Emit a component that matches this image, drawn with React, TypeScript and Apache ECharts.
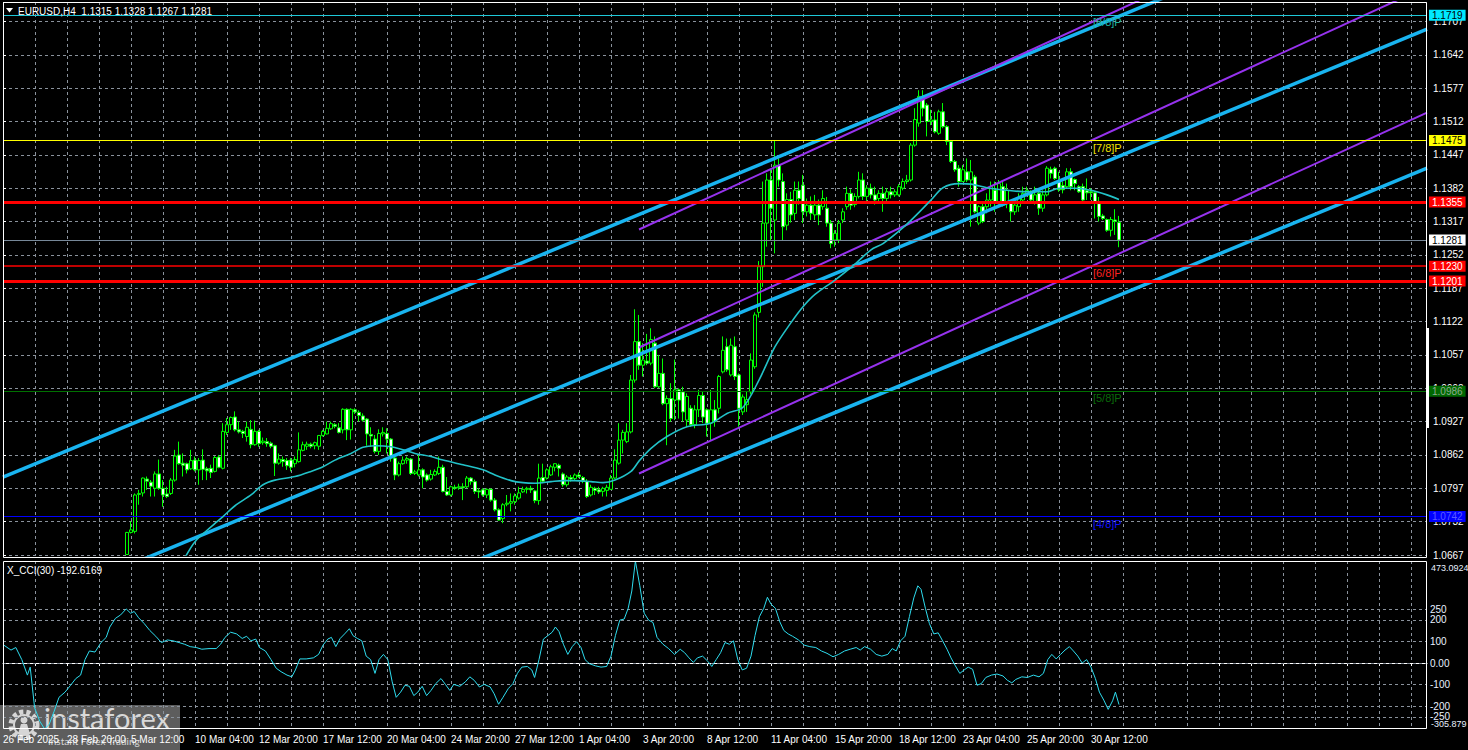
import React, { useEffect, useRef } from "react";
import * as echarts from "echarts";

// ---------- data ----------
const tickLabels = [
  "26 Feb 2025", "28 Feb 20:00", "5 Mar 12:00", "10 Mar 04:00", "12 Mar 20:00", "17 Mar 12:00",
  "20 Mar 04:00", "24 Mar 20:00", "27 Mar 12:00", "1 Apr 04:00", "3 Apr 20:00", "8 Apr 12:00",
  "11 Apr 04:00", "15 Apr 20:00", "18 Apr 12:00", "23 Apr 04:00", "25 Apr 20:00", "30 Apr 12:00",
];
const barsPerLabel = 16;
const slotCount = 357;
const firstBar = 31;

// [open, high, low, close] for bars 31..279
const ohlc: number[][] = [
  [1.0668, 1.0712, 1.0667, 1.0711], [1.0711, 1.0732, 1.0709, 1.0716], [1.0713, 1.0787, 1.0709, 1.0784],
  [1.0785, 1.0794, 1.0765, 1.0787], [1.0788, 1.0818, 1.0781, 1.0817], [1.0815, 1.0820, 1.0794, 1.0811],
  [1.0809, 1.0813, 1.0781, 1.0801], [1.0797, 1.0830, 1.0781, 1.0825], [1.0825, 1.0853, 1.0794, 1.0797],
  [1.0797, 1.0813, 1.0761, 1.0784], [1.0786, 1.0800, 1.0778, 1.0781], [1.0787, 1.0817, 1.0784, 1.0813],
  [1.0813, 1.0872, 1.0810, 1.0860], [1.0862, 1.0888, 1.0843, 1.0845], [1.0846, 1.0865, 1.0820, 1.0842],
  [1.0845, 1.0847, 1.0826, 1.0833], [1.0835, 1.0872, 1.0833, 1.0851], [1.0852, 1.0859, 1.0830, 1.0833],
  [1.0833, 1.0856, 1.0804, 1.0851], [1.0852, 1.0873, 1.0813, 1.0834], [1.0835, 1.0839, 1.0813, 1.0831],
  [1.0836, 1.0843, 1.0817, 1.0828], [1.0830, 1.0860, 1.0828, 1.0857], [1.0858, 1.0862, 1.0836, 1.0838],
  [1.0836, 1.0924, 1.0834, 1.0908], [1.0906, 1.0934, 1.0901, 1.0921], [1.0921, 1.0937, 1.0911, 1.0935],
  [1.0936, 1.0947, 1.0908, 1.0911], [1.0911, 1.0927, 1.0904, 1.0907], [1.0908, 1.0911, 1.0895, 1.0904],
  [1.0898, 1.0927, 1.0888, 1.0916], [1.0912, 1.0930, 1.0875, 1.0882], [1.0882, 1.0929, 1.0880, 1.0908],
  [1.0908, 1.0911, 1.0878, 1.0884], [1.0886, 1.0896, 1.0882, 1.0889], [1.0888, 1.0895, 1.0878, 1.0884],
  [1.0885, 1.0888, 1.0875, 1.0879], [1.0880, 1.0882, 1.0821, 1.0846], [1.0846, 1.0865, 1.0843, 1.0854],
  [1.0853, 1.0859, 1.0839, 1.0849], [1.0851, 1.0856, 1.0833, 1.0841], [1.0852, 1.0856, 1.0830, 1.0838],
  [1.0845, 1.0859, 1.0838, 1.0853], [1.0849, 1.0906, 1.0847, 1.0872], [1.0871, 1.0888, 1.0869, 1.0882],
  [1.0879, 1.0888, 1.0872, 1.0883], [1.0883, 1.0886, 1.0875, 1.0879], [1.0880, 1.0888, 1.0873, 1.0886],
  [1.0879, 1.0901, 1.0872, 1.0900], [1.0900, 1.0911, 1.0898, 1.0908], [1.0903, 1.0927, 1.0902, 1.0914],
  [1.0913, 1.0927, 1.0911, 1.0923], [1.0921, 1.0924, 1.0914, 1.0918], [1.0915, 1.0924, 1.0904, 1.0906],
  [1.0911, 1.0953, 1.0904, 1.0951], [1.0951, 1.0953, 1.0891, 1.0911], [1.0911, 1.0953, 1.0892, 1.0951],
  [1.0950, 1.0953, 1.0942, 1.0946], [1.0945, 1.0949, 1.0927, 1.0939], [1.0938, 1.0943, 1.0927, 1.0930],
  [1.0932, 1.0934, 1.0880, 1.0903], [1.0902, 1.0916, 1.0878, 1.0899], [1.0893, 1.0901, 1.0865, 1.0869],
  [1.0869, 1.0912, 1.0862, 1.0904], [1.0903, 1.0916, 1.0898, 1.0906], [1.0904, 1.0914, 1.0865, 1.0893],
  [1.0893, 1.0895, 1.0849, 1.0856], [1.0856, 1.0862, 1.0813, 1.0823], [1.0823, 1.0849, 1.0820, 1.0845],
  [1.0845, 1.0859, 1.0843, 1.0852], [1.0852, 1.0859, 1.0845, 1.0855], [1.0854, 1.0856, 1.0823, 1.0826],
  [1.0826, 1.0833, 1.0823, 1.0829], [1.0823, 1.0862, 1.0820, 1.0833], [1.0833, 1.0836, 1.0797, 1.0819],
  [1.0823, 1.0826, 1.0810, 1.0813], [1.0815, 1.0833, 1.0812, 1.0824], [1.0823, 1.0834, 1.0821, 1.0830],
  [1.0826, 1.0859, 1.0823, 1.0838], [1.0838, 1.0843, 1.0789, 1.0791], [1.0791, 1.0819, 1.0782, 1.0784],
  [1.0784, 1.0802, 1.0781, 1.0800], [1.0799, 1.0804, 1.0794, 1.0797], [1.0798, 1.0806, 1.0794, 1.0800],
  [1.0800, 1.0807, 1.0774, 1.0798], [1.0800, 1.0821, 1.0797, 1.0817], [1.0817, 1.0819, 1.0804, 1.0810],
  [1.0810, 1.0814, 1.0786, 1.0791], [1.0792, 1.0797, 1.0778, 1.0790], [1.0794, 1.0797, 1.0781, 1.0784],
  [1.0784, 1.0797, 1.0778, 1.0795], [1.0795, 1.0797, 1.0771, 1.0774], [1.0774, 1.0778, 1.0752, 1.0755],
  [1.0755, 1.0758, 1.0734, 1.0735], [1.0738, 1.0768, 1.0729, 1.0765], [1.0766, 1.0784, 1.0762, 1.0768],
  [1.0768, 1.0787, 1.0752, 1.0771], [1.0771, 1.0787, 1.0765, 1.0782], [1.0778, 1.0800, 1.0775, 1.0788],
  [1.0790, 1.0800, 1.0788, 1.0795], [1.0795, 1.0800, 1.0787, 1.0797], [1.0797, 1.0802, 1.0788, 1.0794],
  [1.0792, 1.0794, 1.0768, 1.0773], [1.0773, 1.0845, 1.0765, 1.0817], [1.0818, 1.0845, 1.0807, 1.0811],
  [1.0817, 1.0836, 1.0814, 1.0833], [1.0823, 1.0843, 1.0821, 1.0839], [1.0838, 1.0846, 1.0830, 1.0845],
  [1.0842, 1.0845, 1.0820, 1.0836], [1.0825, 1.0828, 1.0800, 1.0804], [1.0804, 1.0823, 1.0800, 1.0819],
  [1.0818, 1.0823, 1.0810, 1.0815], [1.0816, 1.0826, 1.0812, 1.0823], [1.0823, 1.0828, 1.0817, 1.0820],
  [1.0818, 1.0821, 1.0807, 1.0812], [1.0810, 1.0815, 1.0778, 1.0781], [1.0784, 1.0804, 1.0781, 1.0799],
  [1.0797, 1.0800, 1.0784, 1.0793], [1.0794, 1.0800, 1.0786, 1.0790], [1.0791, 1.0800, 1.0781, 1.0797],
  [1.0793, 1.0804, 1.0781, 1.0799], [1.0795, 1.0823, 1.0794, 1.0817], [1.0817, 1.0873, 1.0815, 1.0852],
  [1.0846, 1.0924, 1.0843, 1.0891], [1.0891, 1.0911, 1.0865, 1.0906], [1.0888, 1.0924, 1.0885, 1.0907],
  [1.0907, 1.1018, 1.0904, 1.1008], [1.1008, 1.1146, 1.1003, 1.1083], [1.1083, 1.1135, 1.1028, 1.1037],
  [1.1037, 1.1080, 1.1015, 1.1047], [1.1045, 1.1098, 1.1037, 1.1041], [1.1041, 1.1109, 1.1037, 1.1087],
  [1.1080, 1.1093, 1.0992, 1.0995], [1.0995, 1.1057, 1.0992, 1.1021], [1.1021, 1.1050, 1.0959, 1.0962],
  [1.0962, 1.0978, 1.0881, 1.0972], [1.0972, 1.1002, 1.0927, 1.0933], [1.0969, 1.1048, 1.0930, 1.0989],
  [1.0989, 1.0992, 1.0933, 1.0969], [1.0985, 1.0995, 1.0927, 1.0946], [1.0930, 1.0982, 1.0917, 1.0976],
  [1.0953, 1.0959, 1.0917, 1.0921], [1.0921, 1.0959, 1.0914, 1.0950], [1.0950, 1.0989, 1.0936, 1.0978],
  [1.0978, 1.0985, 1.0924, 1.0936], [1.0950, 1.0953, 1.0898, 1.0924], [1.0924, 1.0989, 1.0891, 1.0950],
  [1.0950, 1.0969, 1.0917, 1.0927], [1.0953, 1.1018, 1.0943, 1.1015], [1.1024, 1.1093, 1.1021, 1.1066],
  [1.1073, 1.1089, 1.1024, 1.1028], [1.1018, 1.1089, 1.1015, 1.1076], [1.1073, 1.1093, 1.1008, 1.1015],
  [1.1018, 1.1021, 1.0917, 1.0953], [1.0946, 1.0980, 1.0940, 1.0975], [1.0960, 1.0985, 1.0946, 1.0970],
  [1.0985, 1.1060, 1.0980, 1.1047], [1.1034, 1.1140, 1.1030, 1.1135], [1.1140, 1.1240, 1.1130, 1.1229],
  [1.1229, 1.1395, 1.1190, 1.1314], [1.1314, 1.1411, 1.1268, 1.1398], [1.1398, 1.1420, 1.1281, 1.1343],
  [1.1320, 1.1476, 1.1255, 1.1427], [1.1427, 1.1440, 1.1385, 1.1398], [1.1395, 1.1411, 1.1281, 1.1307],
  [1.1310, 1.1372, 1.1300, 1.1360], [1.1360, 1.1375, 1.1315, 1.1330], [1.1333, 1.1395, 1.1320, 1.1378],
  [1.1378, 1.1395, 1.1350, 1.1362], [1.1388, 1.1408, 1.1314, 1.1336], [1.1336, 1.1362, 1.1327, 1.1349],
  [1.1349, 1.1366, 1.1320, 1.1333], [1.1330, 1.1369, 1.1320, 1.1349], [1.1349, 1.1360, 1.1310, 1.1330],
  [1.1346, 1.1378, 1.1340, 1.1362], [1.1343, 1.1365, 1.1307, 1.1314], [1.1314, 1.1320, 1.1265, 1.1274],
  [1.1281, 1.1300, 1.1268, 1.1294], [1.1281, 1.1320, 1.1275, 1.1314], [1.1320, 1.1343, 1.1314, 1.1336],
  [1.1346, 1.1385, 1.1340, 1.1372], [1.1372, 1.1380, 1.1340, 1.1349], [1.1350, 1.1372, 1.1345, 1.1366],
  [1.1366, 1.1414, 1.1362, 1.1398], [1.1398, 1.1411, 1.1359, 1.1366], [1.1366, 1.1388, 1.1356, 1.1382],
  [1.1382, 1.1391, 1.1362, 1.1369], [1.1369, 1.1385, 1.1350, 1.1359], [1.1362, 1.1378, 1.1356, 1.1372],
  [1.1372, 1.1385, 1.1336, 1.1362], [1.1362, 1.1382, 1.1356, 1.1375], [1.1375, 1.1385, 1.1362, 1.1369],
  [1.1369, 1.1380, 1.1365, 1.1375], [1.1369, 1.1390, 1.1366, 1.1385], [1.1382, 1.1401, 1.1378, 1.1395],
  [1.1395, 1.1408, 1.1390, 1.1398], [1.1398, 1.1470, 1.1395, 1.1466], [1.1466, 1.1538, 1.1463, 1.1516],
  [1.1509, 1.1573, 1.1502, 1.1561], [1.1557, 1.1573, 1.1522, 1.1538], [1.1544, 1.1548, 1.1483, 1.1512],
  [1.1512, 1.1535, 1.1505, 1.1515], [1.1515, 1.1531, 1.1489, 1.1492], [1.1489, 1.1535, 1.1486, 1.1531],
  [1.1531, 1.1548, 1.1499, 1.1502], [1.1502, 1.1505, 1.1466, 1.1473], [1.1473, 1.1476, 1.1431, 1.1434],
  [1.1434, 1.1437, 1.1414, 1.1418], [1.1421, 1.1427, 1.1385, 1.1395], [1.1395, 1.1427, 1.1395, 1.1418],
  [1.1414, 1.1440, 1.1394, 1.1398], [1.1398, 1.1437, 1.1307, 1.1414], [1.1404, 1.1408, 1.1333, 1.1336],
  [1.1314, 1.1349, 1.1310, 1.1346], [1.1346, 1.1353, 1.1314, 1.1317], [1.1346, 1.1372, 1.1333, 1.1359],
  [1.1359, 1.1395, 1.1346, 1.1385], [1.1378, 1.1395, 1.1336, 1.1353], [1.1353, 1.1398, 1.1350, 1.1391],
  [1.1385, 1.1398, 1.1346, 1.1349], [1.1353, 1.1391, 1.1343, 1.1378], [1.1353, 1.1359, 1.1317, 1.1336],
  [1.1336, 1.1362, 1.1330, 1.1349], [1.1346, 1.1372, 1.1336, 1.1362], [1.1359, 1.1385, 1.1356, 1.1372],
  [1.1372, 1.1385, 1.1366, 1.1378], [1.1372, 1.1378, 1.1356, 1.1359], [1.1353, 1.1385, 1.1350, 1.1369],
  [1.1372, 1.1382, 1.1330, 1.1343], [1.1343, 1.1378, 1.1336, 1.1369], [1.1369, 1.1425, 1.1366, 1.1421],
  [1.1419, 1.1424, 1.1401, 1.1411], [1.1421, 1.1424, 1.1398, 1.1401], [1.1395, 1.1414, 1.1375, 1.1379],
  [1.1387, 1.1395, 1.1372, 1.1379], [1.1385, 1.1421, 1.1382, 1.1414], [1.1414, 1.1421, 1.1378, 1.1385],
  [1.1399, 1.1401, 1.1378, 1.1391], [1.1385, 1.1388, 1.1373, 1.1375], [1.1385, 1.1391, 1.1357, 1.1359],
  [1.1377, 1.1401, 1.1359, 1.1373], [1.1375, 1.1382, 1.1359, 1.1373], [1.1373, 1.1375, 1.1323, 1.1356],
  [1.1352, 1.1365, 1.1317, 1.1327], [1.1328, 1.1332, 1.1320, 1.1323], [1.1321, 1.1323, 1.1297, 1.1300],
  [1.1300, 1.1326, 1.1288, 1.1321], [1.1320, 1.1341, 1.1291, 1.1317], [1.1315, 1.1328, 1.1267, 1.1281],
];

// moving average, [bar position, price]
const maLine: number[][] = [
  [45, 1.0655], [48, 1.0693], [52, 1.0722], [55, 1.0742], [58, 1.0763], [62, 1.0784], [65, 1.0804],
  [68, 1.0813], [73, 1.0820], [77, 1.0830], [80, 1.0839], [83, 1.0852], [87, 1.0865], [90, 1.0877],
  [93, 1.0880], [97, 1.0878], [100, 1.0872], [103, 1.0865], [107, 1.0859], [110, 1.0852], [115, 1.0843],
  [120, 1.0833], [123, 1.0823], [127, 1.0812], [130, 1.0808], [133, 1.0807], [137, 1.0810], [140, 1.0812],
  [143, 1.0812], [147, 1.0810], [150, 1.0808], [153, 1.0813], [157, 1.0830], [159, 1.0850], [162, 1.0875],
  [166, 1.0898], [171, 1.0917], [177, 1.0924], [181, 1.0943], [185, 1.0955], [189, 1.1008], [193, 1.1073],
  [197, 1.1120], [200, 1.1151], [203, 1.1175], [208, 1.1203], [213, 1.1234], [217, 1.1262], [220, 1.1274],
  [225, 1.1305], [229, 1.1335], [232, 1.1359], [235, 1.1383], [239, 1.1391], [242, 1.1390], [246, 1.1383],
  [251, 1.1378], [256, 1.1375], [261, 1.1375], [264, 1.1382], [268, 1.1382], [272, 1.1378], [276, 1.1369],
  [279, 1.1360],
];

// CCI(30), [bar position, value]
const cciLine: number[][] = [
  [0.2, 83], [2.0, 60], [3.2, 72], [4.7, 16], [6.1, -56], [6.8, -19], [7.9, -207], [9.2, -270],
  [10.4, -305.9], [11.5, -286], [12.8, -223], [14.0, -159], [15.5, -135], [16.9, -103], [18.2, -72],
  [19.4, -56], [20.5, 16], [21.6, 56], [23.0, 51], [24.5, 95], [25.8, 119], [26.7, 167], [28.1, 207],
  [29.4, 223], [30.8, 251], [31.9, 231], [32.8, 239], [33.9, 210], [35.3, 183], [36.7, 151], [38.2, 124],
  [39.6, 95], [41.1, 107], [42.5, 103], [44.0, 95], [45.4, 87], [46.8, 76], [48.3, 72], [49.7, 64],
  [51.5, 67], [53.3, 67], [54.4, 87], [55.5, 119], [56.9, 143], [58.4, 135], [59.8, 114], [60.9, 124],
  [62.0, 103], [63.2, 111], [64.1, 72], [65.6, 56], [67.0, 16], [68.3, -24], [69.5, -40], [71.0, -56],
  [72.2, -64], [73.1, -32], [74.2, 19], [75.8, 19], [77.6, 24], [78.9, 40], [80.0, 83], [81.2, 111],
  [82.1, 119], [83.2, 76], [84.3, 114], [85.4, 135], [86.6, 159], [87.5, 127], [88.6, 114], [89.7, 103],
  [90.8, 32], [91.9, 16], [93.0, -48], [94.0, 16], [95.1, 40], [96.2, 16], [97.3, -87], [98.3, -159],
  [99.4, -135], [100.5, -103], [101.6, -108], [102.7, -151], [103.7, -135], [104.8, -108], [105.9, -151],
  [107.0, -127], [108.2, -95], [109.5, -72], [110.6, -99], [111.7, -127], [112.7, -99], [114.2, -108],
  [115.6, -87], [116.7, -64], [117.8, -80], [119.1, -111], [120.3, -99], [121.8, -111], [122.8, -143],
  [123.9, -191], [125.0, -159], [126.3, -119], [127.5, -95], [128.6, -48], [129.7, -19], [131.1, -16],
  [132.2, -32], [132.9, -67], [134.0, 16], [135.1, 111], [136.2, 127], [137.3, 143], [138.1, 167],
  [139.0, 146], [140.1, 87], [141.2, 40], [142.3, 76], [143.4, 99], [144.5, 72], [145.5, 16], [146.6, -3],
  [148.1, -13], [149.5, -19], [150.9, -16], [152.0, 32], [153.1, 127], [154.2, 199], [155.3, 204],
  [156.3, 254], [157.2, 334], [158.1, 473], [159.2, 358], [160.3, 231], [161.4, 199], [162.5, 188],
  [163.5, 119], [165.0, 87], [166.4, 67], [167.9, 40], [169.3, 64], [170.4, 48], [171.5, 24], [172.6, 3],
  [173.6, 24], [174.9, 32], [176.2, 8], [177.2, -16], [178.3, 16], [179.4, 48], [180.5, 95], [181.6, 87],
  [182.6, 103], [183.7, 16], [184.8, -32], [185.9, -24], [187.0, 32], [188.0, 127], [189.1, 215],
  [190.2, 254], [191.1, 305], [192.0, 273], [193.1, 254], [194.2, 191], [195.2, 151], [196.3, 135],
  [197.4, 124], [198.8, 108], [200.3, 83], [201.7, 76], [203.2, 72], [204.6, 56], [206.0, 45], [207.5, 29],
  [208.9, 40], [210.4, 56], [211.8, 64], [213.3, 72], [214.3, 60], [215.4, 76], [216.9, 64], [218.3, 40],
  [219.7, 32], [221.2, 40], [222.3, 67], [223.3, 56], [224.4, 103], [225.5, 124], [226.6, 215], [227.7, 302],
  [228.7, 358], [229.5, 342], [230.6, 254], [231.6, 183], [232.7, 135], [233.8, 140], [234.9, 103],
  [236.0, 64], [237.0, 24], [238.1, -13], [239.2, -48], [240.3, -32], [241.3, -19], [242.4, -29],
  [243.5, -103], [244.6, -95], [245.7, -67], [247.1, -56], [248.5, -51], [250.0, -60], [251.1, -80],
  [252.2, -92], [253.2, -76], [254.7, -64], [256.1, -67], [257.6, -56], [259.0, -64], [260.1, -48],
  [261.2, 16], [262.2, 40], [263.3, 19], [264.4, 40], [265.5, 60], [266.6, 76], [267.6, 56], [268.7, 32],
  [269.8, 0], [270.9, 16], [272.0, -19], [273.1, -72], [274.1, -135], [275.2, -172], [276.3, -215],
  [277.4, -175], [278.1, -135], [279.0, -192.6],
];

const priceMin = 1.0667;
const priceMax = 1.1745;
const priceStep = 0.0065;

const levelValues = [1.1719, 1.1475, 1.1355, 1.1281, 1.123, 1.1201, 1.0986, 1.0742];
const murrayNames = ["[8/8]P", "[7/8]P", "[6/8]P", "[5/8]P", "[4/8]P"];
const murrayValues = [1.1719, 1.1475, 1.123, 1.0986, 1.0742];
const murrayBar = 272.6;

// regression channels: [startBar, startPrice, endBar, endPrice]
const blueLines = [
  [0, 1.08187, 356, 1.19651],
  [0, 1.05458, 356, 1.16921],
  [0, 1.02748, 356, 1.14212],
];
const purpleLines = [
  [159, 1.13015, 356, 1.2005],
  [159, 1.10715, 356, 1.1775],
  [159, 1.08259, 356, 1.15294],
];

const cciLevels = [250, 200, 100, 0, -100, -200, -250];
const cciMax = 473.0924;
const cciMin = -305.879;

const headerText = "EURUSD,H4  1.1315 1.1328 1.1267 1.1281";
const cciTitle = "X_CCI(30) -192.6169";

// ---------- styles ----------
const FONT = "'Liberation Sans', Arial, sans-serif";
const GRID_COLOR = "#8a929c";
const levelStyles = [
  { line: "#1ec8d8", width: 1, bg: "#00e8ff", fg: "#000000" },
  { line: "#ffff00", width: 1, bg: "#ffff00", fg: "#000000" },
  { line: "#ff0000", width: 3, bg: "#ff0000", fg: "#ffffff" },
  { line: "#778899", width: 1, bg: "#ffffff", fg: "#000000" },
  { line: "#ff0000", width: 1.5, bg: "#ff0000", fg: "#ffffff" },
  { line: "#ff0000", width: 3, bg: "#ff0000", fg: "#ffffff" },
  { line: "#007000", width: 1, bg: "#006800", fg: "#8fa88f" },
  { line: "#0000ff", width: 1, bg: "#0000ff", fg: "#5a5aff" },
];
const murrayColors = ["#1fb5a0", "#f2e200", "#ff2020", "#0a6a0a", "#1010ff"];

export default function App() {
  const ref = useRef<HTMLDivElement>(null);

  useEffect(() => {
    if (!ref.current) return;
    const chart = echarts.init(ref.current, null, { renderer: "svg" });

    const categories = Array.from({ length: slotCount }, (_, i) => String(i));
    const candleData = ohlc.map((d, k) => [firstBar + k, d[0], d[3], d[2], d[1]]);

    const isPriceTick = (v: number) => {
      const k = (v - priceMin) / priceStep;
      return Math.abs(k - Math.round(k)) < 0.01 && v < priceMax - 0.001;
    };

    const splitLineX = {
      show: true,
      interval: (i: number) => i % 8 === 0 && i > 0,
      lineStyle: { color: GRID_COLOR, type: [3, 3], width: 1 },
    };

    const channelSeries = [
      ...blueLines.map((l) => ({
        type: "line",
        xAxisIndex: 1,
        yAxisIndex: 0,
        data: [[l[0], l[1]], [l[2], l[3]]],
        showSymbol: false,
        symbol: "none",
        silent: true,
        z: 4,
        lineStyle: { color: "#19b4f0", width: 3.5 },
      })),
      ...purpleLines.map((l) => ({
        type: "line",
        xAxisIndex: 1,
        yAxisIndex: 0,
        data: [[l[0], l[1]], [l[2], l[3]]],
        showSymbol: false,
        symbol: "none",
        silent: true,
        z: 4,
        lineStyle: { color: "#9632ee", width: 2 },
      })),
    ];

    const option: any = {
      animation: false,
      backgroundColor: "#000000",
      grid: [
        { left: 3, width: 1424, top: 2, height: 553, show: false },
        { left: 3, width: 1424, top: 561, height: 168, show: false },
      ],
      xAxis: [
        {
          type: "category", gridIndex: 0, data: categories, boundaryGap: false,
          axisLine: { show: false }, axisTick: { show: false }, axisLabel: { show: false },
          splitLine: splitLineX,
        },
        { type: "value", gridIndex: 0, min: 0, max: slotCount - 1, show: false },
        {
          type: "category", gridIndex: 1, data: categories, boundaryGap: false,
          axisLine: { show: true, lineStyle: { color: "#ffffff", width: 1 } },
          axisTick: {
            show: true, interval: (i: number) => i % 8 === 0, length: 3,
            lineStyle: { color: "#ffffff" },
          },
          axisLabel: {
            show: true,
            interval: (i: number) => i % barsPerLabel === 0,
            formatter: (v: string) => tickLabels[Number(v) / barsPerLabel] || "",
            align: "left",
            color: "#ffffff",
            fontSize: 10,
            fontFamily: FONT,
            margin: 5,
          },
          splitLine: splitLineX,
        },
        { type: "value", gridIndex: 1, min: 0, max: slotCount - 1, show: false },
      ],
      yAxis: [
        {
          type: "value", gridIndex: 0, position: "right",
          min: priceMin, max: priceMax, interval: priceStep,
          axisLine: { show: false },
          axisTick: { show: true, length: 3, lineStyle: { color: "#ffffff" } },
          axisLabel: {
            color: "#ffffff", fontSize: 10, fontFamily: FONT, margin: 6,
            formatter: (v: number) => (isPriceTick(v) ? v.toFixed(4) : ""),
          },
          splitLine: { show: true, lineStyle: { color: GRID_COLOR, type: [3, 3], width: 1 } },
        },
        {
          type: "value", gridIndex: 1, position: "right",
          min: cciMin, max: cciMax,
          axisLine: { show: false }, axisTick: { show: false }, axisLabel: { show: false },
          splitLine: { show: false },
        },
      ],
      series: [
        {
          type: "candlestick",
          xAxisIndex: 0,
          yAxisIndex: 0,
          data: candleData,
          encode: { x: 0, y: [1, 2, 3, 4] },
          barWidth: 3,
          z: 2,
          silent: true,
          itemStyle: {
            color: "#000000",
            color0: "#ffffff",
            borderColor: "#00ff00",
            borderColor0: "#00ff00",
            borderWidth: 1,
          },
        },
        ...channelSeries,
        {
          type: "line",
          xAxisIndex: 1,
          yAxisIndex: 0,
          data: maLine,
          showSymbol: false,
          symbol: "none",
          smooth: 0.3,
          silent: true,
          z: 5,
          lineStyle: { color: "#22c2c8", width: 1.6 },
        },
        {
          type: "line",
          xAxisIndex: 1,
          yAxisIndex: 0,
          data: [],
          z: 6,
          markLine: {
            silent: true,
            symbol: ["none", "none"],
            precision: 4,
            animation: false,
            data: levelValues.map((v, k) => ({
              yAxis: v,
              lineStyle: { color: levelStyles[k].line, width: levelStyles[k].width, type: "solid" },
              label: {
                show: true,
                position: "end",
                distance: 2,
                formatter: v.toFixed(4),
                color: levelStyles[k].fg,
                backgroundColor: levelStyles[k].bg,
                padding: [1, 3, 0, 3],
                fontSize: 10,
                fontFamily: FONT,
              },
            })),
          },
          markPoint: {
            silent: true,
            animation: false,
            precision: 4,
            data: murrayValues.map((v, k) => ({
              coord: [murrayBar, v],
              symbol: "rect",
              symbolSize: 1,
              itemStyle: { color: "rgba(0,0,0,0)" },
              label: {
                show: true,
                formatter: murrayNames[k],
                position: [0, 2],
                align: "left",
                verticalAlign: "top",
                color: murrayColors[k],
                fontSize: 11,
                fontFamily: FONT,
              },
            })),
          },
        },
        {
          type: "line",
          xAxisIndex: 3,
          yAxisIndex: 1,
          data: cciLine,
          showSymbol: false,
          symbol: "none",
          silent: true,
          z: 5,
          lineStyle: { color: "#2edcee", width: 1 },
          markLine: {
            silent: true,
            symbol: ["none", "none"],
            animation: false,
            lineStyle: { color: GRID_COLOR, type: [3, 3], width: 1 },
            label: {
              show: true,
              position: "end",
              distance: 3,
              color: "#e8f0ff",
              fontSize: 10,
              fontFamily: FONT,
              formatter: (p: any) => (p.value === 0 ? "0.00" : String(p.value)),
            },
            data: cciLevels.map((v) => ({ yAxis: v })),
          },
        },
      ],
      graphic: [
        {
          type: "rect", z: 50, silent: true,
          shape: { x: 3.5, y: 2.5, width: 1423, height: 555 },
          style: { fill: "none", stroke: "#ffffff", lineWidth: 1 },
        },
        {
          type: "rect", z: 50, silent: true,
          shape: { x: 3.5, y: 561.5, width: 1423, height: 167 },
          style: { fill: "none", stroke: "#ffffff", lineWidth: 1 },
        },
        {
          type: "rect", z: 50, silent: true,
          shape: { x: 1426, y: 328, width: 3, height: 100 },
          style: { fill: "#ffffff" },
        },
        {
          type: "polygon", z: 50, silent: true,
          shape: { points: [[6, 8], [13, 8], [9.5, 12.5]] },
          style: { fill: "#ffffff" },
        },
        {
          type: "text", z: 50, silent: true, x: 18, y: 11,
          style: { text: headerText, fill: "#ffffff", font: `10px ${FONT}`, verticalAlign: "middle", align: "left" },
        },
        {
          type: "text", z: 50, silent: true, x: 7, y: 570,
          style: { text: cciTitle, fill: "#ffffff", font: `10px ${FONT}`, verticalAlign: "middle", align: "left" },
        },
        {
          type: "text", z: 50, silent: true, x: 1431, y: 563,
          style: { text: cciMax.toFixed(4), fill: "#e8f0ff", font: `9px ${FONT}`, verticalAlign: "top", align: "left" },
        },
        {
          type: "text", z: 50, silent: true, x: 1431, y: 728,
          style: { text: cciMin.toFixed(3), fill: "#e8f0ff", font: `9px ${FONT}`, verticalAlign: "bottom", align: "left" },
        },
        // logo
        {
          type: "group", z: 60, silent: true,
          children: [
            { type: "rect", shape: { x: 0, y: 705, width: 180, height: 45 }, style: { fill: "rgba(150,150,150,0.62)" } },
            { type: "circle", shape: { cx: 24, cy: 725, r: 13 }, style: { fill: "none", stroke: "#d6d6d6", lineWidth: 5, lineDash: [4, 3] } },
            { type: "circle", shape: { cx: 24, cy: 725, r: 10 }, style: { fill: "none", stroke: "#d6d6d6", lineWidth: 2 } },
            { type: "circle", shape: { cx: 24, cy: 720, r: 3.5 }, style: { fill: "#d6d6d6" } },
            { type: "polygon", shape: { points: [[18, 734], [30, 734], [27, 724], [21, 724]] }, style: { fill: "#d6d6d6" } },
            {
              type: "text", x: 44, y: 732,
              style: { text: "instaforex", fill: "#d8d8d8", font: `29px Lato, ${FONT}`, verticalAlign: "bottom", align: "left" },
            },
            {
              type: "text", x: 48, y: 741,
              style: { text: "Instant Forex Trading", fill: "#d8d8d8", font: `10px Lato, ${FONT}`, verticalAlign: "middle", align: "left" },
            },
          ],
        },
      ],
    };

    chart.setOption(option);
    return () => chart.dispose();
  }, []);

  return (
    <div
      ref={ref}
      style={{ position: "fixed", left: 0, top: 0, width: 1468, height: 750, background: "#000000" }}
    />
  );
}
